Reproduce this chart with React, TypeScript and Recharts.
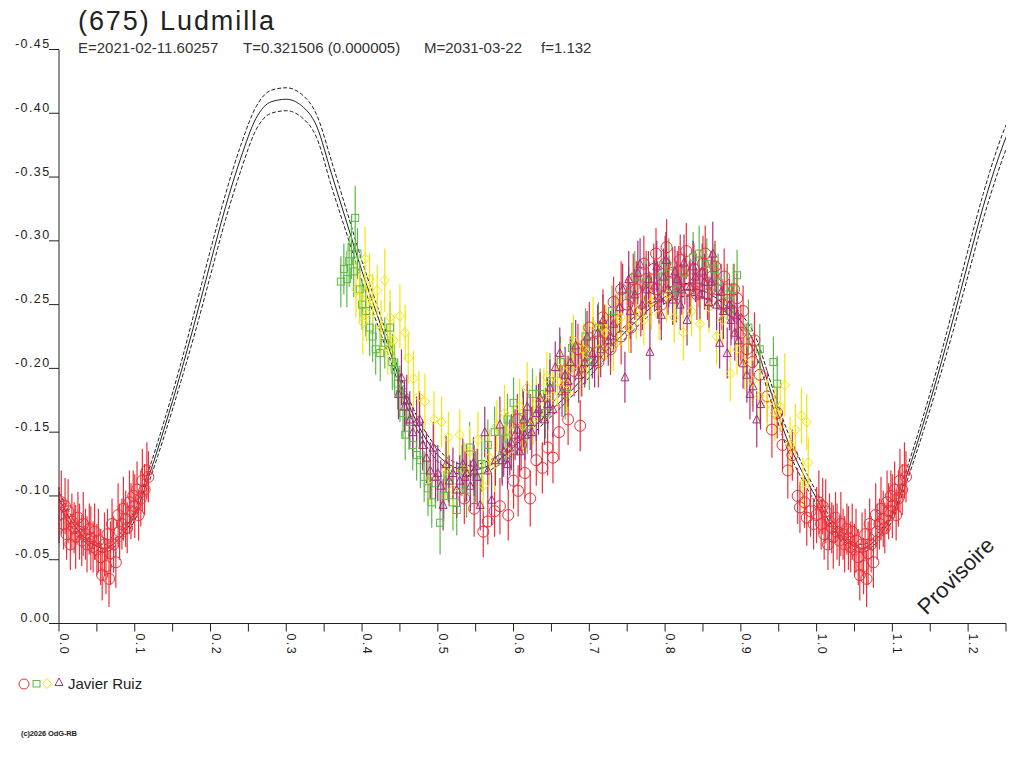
import React from "react";
import { ComposedChart, Line, Scatter, ErrorBar, XAxis, YAxis } from "recharts";

// Fitted lightcurve, one period (phase 0 .. 0.98)
const CURVE_PHASE = [
  0.0, 0.02, 0.04, 0.06, 0.08, 0.1, 0.12, 0.14, 0.16, 0.18, 0.2, 0.22, 0.24, 0.26, 0.28, 0.3, 0.32, 0.34,
  0.36, 0.38, 0.4, 0.42, 0.44, 0.46, 0.48, 0.5, 0.52, 0.54, 0.56, 0.58, 0.6, 0.62, 0.64, 0.66, 0.68,
  0.7, 0.72, 0.74, 0.76, 0.78, 0.8, 0.82, 0.84, 0.86, 0.88, 0.9, 0.92, 0.94, 0.96, 0.98,
];
const CURVE_MID = [
  -0.098, -0.077, -0.064, -0.059, -0.067, -0.085, -0.118, -0.155, -0.195, -0.238, -0.283, -0.327, -0.365,
  -0.396, -0.409, -0.411, -0.406, -0.39, -0.352, -0.314, -0.276, -0.242, -0.208, -0.174, -0.149, -0.132,
  -0.123, -0.12, -0.122, -0.128, -0.138, -0.15, -0.162, -0.173, -0.185, -0.198, -0.212, -0.224, -0.236,
  -0.247, -0.256, -0.261, -0.262, -0.258, -0.249, -0.237, -0.217, -0.181, -0.146, -0.12,
];
const CURVE_UPPER = [
  -0.103, -0.081, -0.067, -0.062, -0.07, -0.089, -0.123, -0.161, -0.202, -0.247, -0.293, -0.337, -0.375,
  -0.405, -0.418, -0.42, -0.415, -0.399, -0.362, -0.323, -0.284, -0.249, -0.214, -0.179, -0.154, -0.137,
  -0.127, -0.124, -0.126, -0.132, -0.143, -0.155, -0.167, -0.178, -0.19, -0.203, -0.217, -0.229, -0.241,
  -0.252, -0.261, -0.266, -0.267, -0.263, -0.254, -0.243, -0.224, -0.188, -0.153, -0.126,
];
const CURVE_LOWER = [
  -0.093, -0.073, -0.061, -0.056, -0.064, -0.081, -0.113, -0.149, -0.188, -0.229, -0.273, -0.317, -0.355,
  -0.387, -0.4, -0.402, -0.397, -0.381, -0.342, -0.305, -0.268, -0.235, -0.202, -0.169, -0.144, -0.127,
  -0.119, -0.116, -0.118, -0.124, -0.133, -0.145, -0.157, -0.168, -0.18, -0.193, -0.207, -0.219, -0.231,
  -0.242, -0.251, -0.256, -0.257, -0.253, -0.244, -0.231, -0.21, -0.174, -0.139, -0.114,
];

// observations: [phase, magnitude, error]
const RED_EARLY = [
  [0.0, -0.085, 0.022], [0.003, -0.095, 0.025], [0.006, -0.078, 0.02], [0.008, -0.092, 0.022], [0.01, -0.07, 0.02],
  [0.012, -0.088, 0.025], [0.015, -0.062, 0.02], [0.017, -0.08, 0.022], [0.02, -0.075, 0.02], [0.022, -0.068, 0.025],
  [0.025, -0.083, 0.02], [0.027, -0.072, 0.022], [0.03, -0.065, 0.02], [0.032, -0.078, 0.025], [0.035, -0.07, 0.02],
  [0.037, -0.062, 0.022], [0.04, -0.074, 0.02], [0.042, -0.067, 0.025], [0.045, -0.06, 0.02], [0.047, -0.072, 0.022],
  [0.05, -0.058, 0.02], [0.052, -0.065, 0.025], [0.055, -0.052, 0.022], [0.057, -0.038, 0.02], [0.06, -0.062, 0.025],
  [0.062, -0.045, 0.022], [0.064, -0.07, 0.02], [0.066, -0.035, 0.022], [0.068, -0.055, 0.025], [0.07, -0.078, 0.02],
  [0.072, -0.062, 0.022], [0.075, -0.048, 0.02], [0.078, -0.085, 0.025], [0.08, -0.072, 0.022], [0.083, -0.078, 0.02],
  [0.085, -0.09, 0.025], [0.088, -0.082, 0.022], [0.09, -0.075, 0.02], [0.093, -0.095, 0.025], [0.095, -0.088, 0.022],
  [0.098, -0.1, 0.02], [0.1, -0.092, 0.025], [0.103, -0.105, 0.022], [0.105, -0.085, 0.02], [0.108, -0.098, 0.022],
  [0.11, -0.112, 0.025], [0.113, -0.105, 0.02], [0.116, -0.12, 0.022], [0.118, -0.115, 0.02],
];
const RED_LATE = [
  [0.535, -0.098, 0.02], [0.548, -0.09, 0.022], [0.56, -0.072, 0.02], [0.566, -0.08, 0.018], [0.575, -0.088, 0.02],
  [0.582, -0.092, 0.022], [0.593, -0.085, 0.02], [0.6, -0.112, 0.022], [0.606, -0.104, 0.02], [0.615, -0.118, 0.02],
  [0.622, -0.098, 0.022], [0.63, -0.128, 0.02], [0.638, -0.122, 0.02], [0.645, -0.138, 0.022], [0.652, -0.13, 0.02],
  [0.605, -0.16, 0.02], [0.61, -0.14, 0.02], [0.66, -0.15, 0.022], [0.672, -0.16, 0.02], [0.688, -0.155, 0.02],
  [0.668, -0.185, 0.022], [0.68, -0.198, 0.02], [0.695, -0.21, 0.022], [0.705, -0.22, 0.02], [0.712, -0.205, 0.02],
  [0.72, -0.228, 0.022], [0.728, -0.215, 0.02], [0.735, -0.238, 0.02], [0.742, -0.225, 0.022], [0.75, -0.25, 0.02],
  [0.755, -0.232, 0.02], [0.762, -0.262, 0.022], [0.768, -0.245, 0.02], [0.775, -0.27, 0.022], [0.78, -0.255, 0.02],
  [0.785, -0.278, 0.02], [0.79, -0.262, 0.022], [0.795, -0.25, 0.02], [0.8, -0.282, 0.022], [0.805, -0.268, 0.02],
  [0.81, -0.275, 0.02], [0.815, -0.258, 0.022], [0.82, -0.285, 0.02], [0.826, -0.27, 0.02], [0.832, -0.262, 0.022],
  [0.838, -0.278, 0.02], [0.845, -0.268, 0.02], [0.85, -0.282, 0.022], [0.856, -0.258, 0.02], [0.862, -0.272, 0.02],
  [0.868, -0.262, 0.022], [0.875, -0.25, 0.02], [0.882, -0.262, 0.02], [0.888, -0.245, 0.022], [0.895, -0.255, 0.02],
  [0.9, -0.228, 0.022], [0.908, -0.215, 0.02], [0.915, -0.205, 0.02], [0.925, -0.195, 0.022], [0.935, -0.178, 0.02],
  [0.941, -0.152, 0.022], [0.948, -0.165, 0.02], [0.955, -0.14, 0.02], [0.962, -0.12, 0.022], [0.968, -0.132, 0.02],
  [0.975, -0.1, 0.022], [0.978, -0.091, 0.02], [0.984, -0.095, 0.02], [0.987, -0.083, 0.022], [0.992, -0.088, 0.02],
  [0.996, -0.078, 0.02], [0.742, -0.262, 0.022], [0.758, -0.27, 0.02], [0.772, -0.282, 0.022], [0.788, -0.29, 0.02],
  [0.802, -0.295, 0.022], [0.818, -0.276, 0.02], [0.828, -0.292, 0.022], [0.842, -0.258, 0.02], [0.853, -0.29, 0.022],
  [0.866, -0.28, 0.02], [0.878, -0.272, 0.022], [0.891, -0.262, 0.02], [0.903, -0.245, 0.02], [0.918, -0.222, 0.022],
  [0.732, -0.252, 0.02], [0.718, -0.24, 0.022], [0.7, -0.232, 0.02], [0.685, -0.215, 0.02],
];
const GREEN_OBS = [
  [0.372, -0.268, 0.02], [0.376, -0.278, 0.02], [0.38, -0.27, 0.022], [0.383, -0.284, 0.02], [0.386, -0.295, 0.025],
  [0.389, -0.276, 0.02], [0.391, -0.318, 0.025], [0.394, -0.29, 0.02], [0.397, -0.262, 0.022], [0.4, -0.25, 0.02],
  [0.405, -0.245, 0.02], [0.41, -0.232, 0.022], [0.414, -0.225, 0.02], [0.418, -0.215, 0.02], [0.424, -0.212, 0.022],
  [0.43, -0.22, 0.02], [0.437, -0.232, 0.02], [0.44, -0.205, 0.022], [0.443, -0.199, 0.02], [0.447, -0.188, 0.02],
  [0.45, -0.18, 0.022], [0.454, -0.165, 0.02], [0.457, -0.148, 0.02], [0.462, -0.158, 0.022], [0.467, -0.14, 0.02],
  [0.472, -0.132, 0.02], [0.477, -0.128, 0.022], [0.482, -0.115, 0.02], [0.487, -0.106, 0.022], [0.492, -0.095, 0.02],
  [0.497, -0.11, 0.02], [0.503, -0.079, 0.025], [0.508, -0.1, 0.02], [0.514, -0.115, 0.02], [0.52, -0.095, 0.022],
  [0.525, -0.089, 0.02], [0.532, -0.12, 0.02], [0.538, -0.105, 0.022], [0.542, -0.138, 0.02], [0.55, -0.115, 0.02],
  [0.558, -0.125, 0.022], [0.566, -0.14, 0.02], [0.575, -0.15, 0.02], [0.585, -0.132, 0.022], [0.592, -0.16, 0.02],
  [0.6, -0.173, 0.02], [0.612, -0.162, 0.022], [0.625, -0.18, 0.02], [0.635, -0.18, 0.02], [0.648, -0.19, 0.022],
  [0.662, -0.205, 0.02], [0.677, -0.216, 0.02], [0.695, -0.225, 0.022], [0.712, -0.232, 0.02], [0.73, -0.245, 0.02],
  [0.752, -0.258, 0.022], [0.775, -0.268, 0.02], [0.795, -0.272, 0.02], [0.815, -0.262, 0.022], [0.837, -0.287, 0.02],
  [0.855, -0.282, 0.02], [0.87, -0.268, 0.022], [0.882, -0.258, 0.02], [0.895, -0.273, 0.02], [0.91, -0.232, 0.022],
  [0.925, -0.215, 0.02], [0.943, -0.205, 0.02], [0.948, -0.188, 0.022], [0.76, -0.272, 0.02], [0.805, -0.28, 0.022],
  [0.825, -0.275, 0.02], [0.845, -0.29, 0.022], [0.865, -0.278, 0.02], [0.89, -0.262, 0.02], [0.59, -0.145, 0.02],
  [0.618, -0.155, 0.022], [0.642, -0.165, 0.02], [0.668, -0.18, 0.02], [0.7, -0.205, 0.022],
];
const YELLOW_OBS = [
  [0.392, -0.262, 0.022], [0.397, -0.256, 0.02], [0.401, -0.236, 0.025], [0.404, -0.286, 0.025], [0.406, -0.243, 0.022],
  [0.41, -0.27, 0.02], [0.414, -0.252, 0.022], [0.42, -0.261, 0.02], [0.425, -0.232, 0.022], [0.43, -0.269, 0.025],
  [0.434, -0.215, 0.02], [0.437, -0.24, 0.022], [0.442, -0.222, 0.02], [0.45, -0.241, 0.025], [0.457, -0.228, 0.022],
  [0.461, -0.208, 0.02], [0.468, -0.192, 0.022], [0.475, -0.178, 0.02], [0.483, -0.174, 0.022], [0.49, -0.114, 0.02],
  [0.495, -0.16, 0.022], [0.505, -0.158, 0.02], [0.51, -0.12, 0.022], [0.514, -0.146, 0.02], [0.52, -0.105, 0.022],
  [0.529, -0.148, 0.02], [0.535, -0.12, 0.022], [0.542, -0.135, 0.02], [0.553, -0.144, 0.022], [0.56, -0.108, 0.02],
  [0.568, -0.13, 0.022], [0.578, -0.155, 0.02], [0.588, -0.165, 0.022], [0.598, -0.15, 0.02], [0.608, -0.17, 0.022],
  [0.618, -0.185, 0.02], [0.63, -0.172, 0.022], [0.644, -0.193, 0.02], [0.652, -0.178, 0.022], [0.662, -0.2, 0.02],
  [0.67, -0.188, 0.022], [0.679, -0.222, 0.02], [0.688, -0.2, 0.022], [0.696, -0.212, 0.02], [0.705, -0.234, 0.022],
  [0.713, -0.215, 0.02], [0.722, -0.228, 0.022], [0.732, -0.218, 0.02], [0.742, -0.24, 0.022], [0.752, -0.232, 0.02],
  [0.762, -0.245, 0.022], [0.772, -0.238, 0.02], [0.782, -0.252, 0.022], [0.792, -0.242, 0.02], [0.802, -0.258, 0.022],
  [0.812, -0.24, 0.02], [0.824, -0.228, 0.022], [0.835, -0.245, 0.02], [0.846, -0.235, 0.022], [0.858, -0.248, 0.02],
  [0.868, -0.225, 0.022], [0.876, -0.238, 0.02], [0.886, -0.196, 0.022], [0.895, -0.215, 0.02], [0.905, -0.205, 0.022],
  [0.915, -0.19, 0.02], [0.925, -0.178, 0.022], [0.935, -0.172, 0.02], [0.945, -0.165, 0.022], [0.952, -0.17, 0.02],
  [0.958, -0.187, 0.025], [0.965, -0.14, 0.022], [0.972, -0.152, 0.02], [0.98, -0.163, 0.022], [0.982, -0.11, 0.02],
  [0.987, -0.158, 0.022], [0.989, -0.126, 0.02], [0.575, -0.125, 0.022], [0.592, -0.135, 0.02], [0.612, -0.155, 0.022],
  [0.626, -0.16, 0.02], [0.64, -0.178, 0.022], [0.658, -0.19, 0.02], [0.675, -0.2, 0.022], [0.692, -0.215, 0.02],
  [0.718, -0.232, 0.022], [0.737, -0.238, 0.02],
];
const PURPLE_OBS = [
  [0.448, -0.18, 0.02], [0.452, -0.193, 0.022], [0.456, -0.17, 0.02], [0.459, -0.175, 0.02], [0.463, -0.16, 0.022],
  [0.467, -0.15, 0.02], [0.472, -0.158, 0.02], [0.476, -0.16, 0.022], [0.48, -0.14, 0.02], [0.485, -0.13, 0.02],
  [0.49, -0.12, 0.022], [0.494, -0.138, 0.02], [0.497, -0.115, 0.02], [0.5, -0.118, 0.022], [0.504, -0.108, 0.02],
  [0.507, -0.093, 0.02], [0.511, -0.125, 0.022], [0.515, -0.112, 0.02], [0.52, -0.118, 0.02], [0.525, -0.105, 0.022],
  [0.529, -0.112, 0.02], [0.533, -0.125, 0.02], [0.538, -0.118, 0.022], [0.543, -0.108, 0.02], [0.547, -0.126, 0.02],
  [0.552, -0.115, 0.022], [0.556, -0.093, 0.02], [0.562, -0.15, 0.02], [0.566, -0.12, 0.022], [0.571, -0.097, 0.02],
  [0.576, -0.128, 0.02], [0.582, -0.156, 0.022], [0.587, -0.135, 0.02], [0.592, -0.125, 0.02], [0.597, -0.142, 0.022],
  [0.602, -0.148, 0.02], [0.608, -0.135, 0.02], [0.613, -0.16, 0.022], [0.618, -0.17, 0.02], [0.624, -0.15, 0.02],
  [0.63, -0.165, 0.022], [0.635, -0.177, 0.02], [0.641, -0.16, 0.02], [0.648, -0.185, 0.022], [0.655, -0.201, 0.02],
  [0.661, -0.212, 0.02], [0.668, -0.195, 0.022], [0.675, -0.205, 0.02], [0.682, -0.218, 0.02], [0.69, -0.2, 0.022],
  [0.697, -0.225, 0.02], [0.704, -0.212, 0.02], [0.711, -0.228, 0.022], [0.718, -0.238, 0.02], [0.725, -0.222, 0.02],
  [0.732, -0.235, 0.022], [0.74, -0.248, 0.02], [0.747, -0.193, 0.02], [0.754, -0.245, 0.022], [0.76, -0.258, 0.02],
  [0.764, -0.275, 0.025], [0.77, -0.25, 0.02], [0.775, -0.262, 0.02], [0.78, -0.213, 0.022], [0.786, -0.265, 0.02],
  [0.792, -0.255, 0.02], [0.798, -0.272, 0.022], [0.804, -0.262, 0.02], [0.81, -0.254, 0.02], [0.816, -0.27, 0.022],
  [0.822, -0.262, 0.02], [0.829, -0.238, 0.02], [0.833, -0.264, 0.022], [0.84, -0.272, 0.02], [0.846, -0.258, 0.02],
  [0.852, -0.268, 0.022], [0.858, -0.252, 0.02], [0.863, -0.29, 0.025], [0.868, -0.25, 0.02], [0.872, -0.22, 0.02],
  [0.877, -0.245, 0.022], [0.882, -0.212, 0.02], [0.887, -0.238, 0.02], [0.892, -0.228, 0.022], [0.897, -0.222, 0.02],
  [0.903, -0.204, 0.02], [0.908, -0.195, 0.022], [0.912, -0.18, 0.02], [0.916, -0.186, 0.02], [0.921, -0.16, 0.022],
  [0.926, -0.172, 0.02], [0.744, -0.262, 0.02], [0.752, -0.27, 0.022], [0.767, -0.282, 0.02], [0.778, -0.27, 0.022],
  [0.789, -0.28, 0.02], [0.801, -0.285, 0.022], [0.813, -0.276, 0.02], [0.825, -0.283, 0.022], [0.837, -0.28, 0.02],
  [0.849, -0.276, 0.022], [0.861, -0.268, 0.02], [0.874, -0.26, 0.022], [0.885, -0.25, 0.02], [0.895, -0.242, 0.02],
  [0.82, -0.25, 0.02], [0.795, -0.242, 0.02], [0.585, -0.128, 0.02], [0.595, -0.138, 0.022], [0.605, -0.152, 0.02],
  [0.615, -0.148, 0.02], [0.622, -0.158, 0.022], [0.633, -0.168, 0.02], [0.645, -0.172, 0.02], [0.652, -0.168, 0.022],
  [0.664, -0.182, 0.02], [0.672, -0.19, 0.02], [0.686, -0.195, 0.022], [0.694, -0.205, 0.02], [0.707, -0.205, 0.02],
  [0.715, -0.215, 0.022], [0.728, -0.225, 0.02], [0.548, -0.12, 0.02], [0.536, -0.115, 0.02],
];

const X_TICKS = [
  0, 0.05, 0.1, 0.15, 0.2, 0.25, 0.3, 0.35, 0.4, 0.45, 0.5, 0.55, 0.6, 0.65, 0.7, 0.75, 0.8, 0.85, 0.9,
  0.95, 1.0, 1.05, 1.1, 1.15, 1.2, 1.25,
];
const X_LABELS = ["0.0", "0.1", "0.2", "0.3", "0.4", "0.5", "0.6", "0.7", "0.8", "0.9", "1.0", "1.1", "1.2"];
const Y_TICKS = [-0.45, -0.4, -0.35, -0.3, -0.25, -0.2, -0.15, -0.1, -0.05, 0];

const RED = "#ee2f38";
const GREEN = "#5cb946";
const YELLOW = "#f4e600";
const PURPLE = "#a72d7c";
const INK = "#222222";
const FONT = '"Liberation Sans", Arial, sans-serif';

// the plot shows 1.25 cycles, so the start of the cycle is drawn again after phase 1
const curve = (vals: number[]) => {
  const pts = CURVE_PHASE.map((p, i) => ({ x: p, y: vals[i] }));
  const again = CURVE_PHASE.filter((p) => p <= 0.26).map((p, i) => ({ x: p + 1, y: vals[i] }));
  return [...pts, ...again];
};
const obs = (rows: number[][]) => rows.map(([x, y, e]) => ({ x, y, e }));

const redData = [...obs(RED_EARLY), ...obs(RED_LATE), ...obs(RED_EARLY).map((d) => ({ ...d, x: d.x + 1 }))];

const circle = (p: any) =>
  p.cx == null ? <g /> : <circle cx={p.cx} cy={p.cy} r={5.5} fill="none" stroke={RED} strokeWidth={1} />;
const square = (p: any) =>
  p.cx == null ? <g /> : (
    <rect x={p.cx - 3.5} y={p.cy - 3.5} width={7} height={7} fill="none" stroke={GREEN} strokeWidth={1} />
  );
const diamond = (p: any) =>
  p.cx == null ? <g /> : (
    <polygon
      points={`${p.cx},${p.cy - 5} ${p.cx + 4.5},${p.cy} ${p.cx},${p.cy + 5} ${p.cx - 4.5},${p.cy}`}
      fill="none"
      stroke={YELLOW}
      strokeWidth={1}
    />
  );
const triangle = (p: any) =>
  p.cx == null ? <g /> : (
    <polygon
      points={`${p.cx},${p.cy - 4.5} ${p.cx + 4},${p.cy + 3.5} ${p.cx - 4},${p.cy + 3.5}`}
      fill="none"
      stroke={PURPLE}
      strokeWidth={1}
    />
  );

const XTick = ({ x, y, payload }: any) => {
  const idx = Math.round(payload.value * 10);
  if (Math.abs(payload.value * 10 - idx) > 1e-6) return <g />;
  const label = X_LABELS[idx];
  return (
    <text
      x={x + 1}
      y={y}
      transform={`rotate(90, ${x + 1}, ${y})`}
      fontSize={12.5}
      letterSpacing={1.4}
      fill={INK}
      fontFamily={FONT}
    >
      {label}
    </text>
  );
};

const YTick = ({ x, y, payload }: any) => (
  <text x={x + 1.5} y={y - 1.5} textAnchor="end" fontSize={12.5} letterSpacing={1.4} fill={INK} fontFamily={FONT}>
    {payload.value === 0 ? "0.00" : payload.value.toFixed(2)}
  </text>
);

export default function App() {
  return (
    <div style={{ position: "absolute", left: 0, top: 0, width: 1024, height: 768, background: "#fff" }}>
      <ComposedChart width={1024} height={768} margin={{ top: 49.5, right: 18, left: 0, bottom: 0 }}>
        <XAxis
          type="number"
          dataKey="x"
          domain={[0, 1.25]}
          ticks={X_TICKS}
          interval={0}
          allowDataOverflow
          height={144.5}
          tickSize={8}
          tickMargin={2}
          stroke={INK}
          tick={<XTick />}
        />
        <YAxis
          type="number"
          dataKey="y"
          domain={[-0.45, 0]}
          ticks={Y_TICKS}
          reversed
          allowDataOverflow
          width={59}
          tickSize={10}
          tickMargin={0}
          stroke={INK}
          tick={<YTick />}
        />
        <Line data={curve(CURVE_UPPER)} dataKey="y" type="monotone" stroke={INK} strokeWidth={1} strokeDasharray="4 2" dot={false} isAnimationActive={false} />
        <Line data={curve(CURVE_LOWER)} dataKey="y" type="monotone" stroke={INK} strokeWidth={1} strokeDasharray="4 2" dot={false} isAnimationActive={false} />
        <Line data={curve(CURVE_MID)} dataKey="y" type="monotone" stroke={INK} strokeWidth={1} dot={false} isAnimationActive={false} />
        <Scatter data={redData} shape={circle} isAnimationActive={false}>
          <ErrorBar dataKey="e" direction="y" width={0} stroke={RED} strokeWidth={1.2} isAnimationActive={false} />
        </Scatter>
        <Scatter data={obs(GREEN_OBS)} shape={square} isAnimationActive={false}>
          <ErrorBar dataKey="e" direction="y" width={0} stroke={GREEN} strokeWidth={1.2} isAnimationActive={false} />
        </Scatter>
        <Scatter data={obs(YELLOW_OBS)} shape={diamond} isAnimationActive={false}>
          <ErrorBar dataKey="e" direction="y" width={0} stroke={YELLOW} strokeWidth={1.2} isAnimationActive={false} />
        </Scatter>
        <Scatter data={obs(PURPLE_OBS)} shape={triangle} isAnimationActive={false}>
          <ErrorBar dataKey="e" direction="y" width={0} stroke={PURPLE} strokeWidth={1.2} isAnimationActive={false} />
        </Scatter>
      </ComposedChart>

      {/* titles, legend and stamps drawn on top */}
      <svg width={1024} height={768} style={{ position: "absolute", left: 0, top: 0, pointerEvents: "none" }} fontFamily={FONT}>
        <text x={78} y={30} fontSize={27} fill={INK} textLength={196} lengthAdjust="spacing">
          (675) Ludmilla
        </text>
        <g fontSize={15} fill="#333">
          <text x={78} y={53}>E=2021-02-11.60257</text>
          <text x={243} y={53}>T=0.321506 (0.000005)</text>
          <text x={424} y={53}>M=2031-03-22</text>
          <text x={541} y={53}>f=1.132</text>
        </g>
        <circle cx={24} cy={684} r={5} fill="none" stroke={RED} strokeWidth={1} />
        <rect x={33} y={680.5} width={7} height={6.5} fill="none" stroke={GREEN} strokeWidth={1} />
        <polygon points="47,678.5 51.5,683.5 47,688.5 42.5,683.5" fill="none" stroke={YELLOW} strokeWidth={1} />
        <polygon points="59,678 63,685.5 55,685.5" fill="none" stroke={PURPLE} strokeWidth={1} />
        <text x={68} y={689} fontSize={15} fill={INK}>
          Javier Ruiz
        </text>
        <text x={21} y={736} fontSize={7.5} fontWeight="bold" fill={INK} textLength={56} lengthAdjust="spacing">
          (c)2026 OdG-RB
        </text>
        <text x={957} y={577} fontSize={22} fill={INK} textAnchor="middle" dominantBaseline="middle" transform="rotate(-45, 957, 577)">
          Provisoire
        </text>
      </svg>
    </div>
  );
}
